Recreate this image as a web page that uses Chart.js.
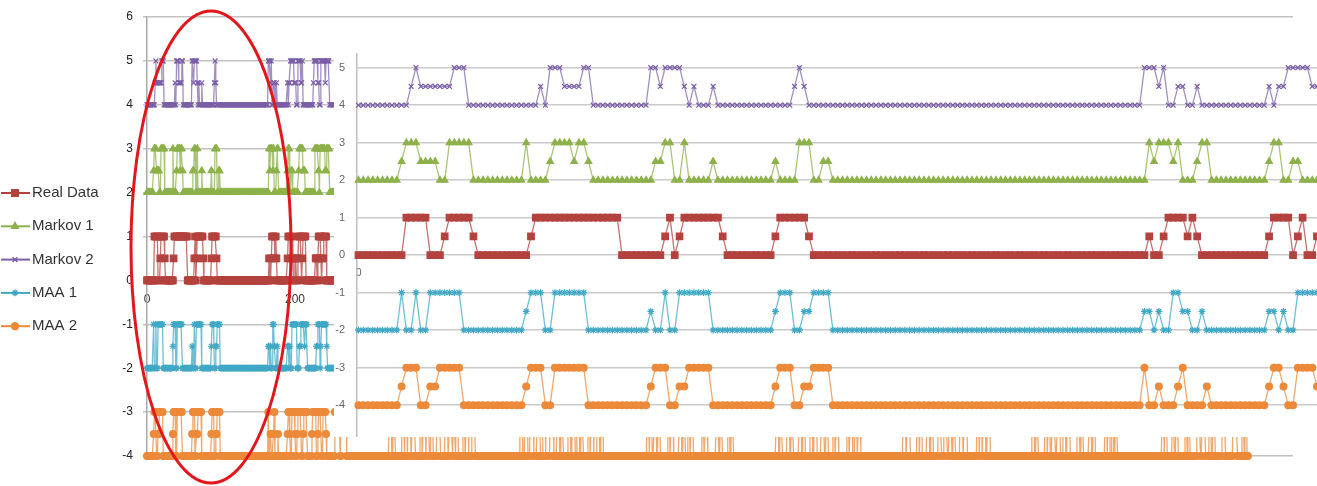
<!DOCTYPE html>
<html>
<head>
<meta charset="utf-8">
<title>Real Data vs Markov / MAA</title>
<script src="https://cdn.jsdelivr.net/npm/chart.js@4.4.0/dist/chart.umd.min.js"></script>
<style>
  html, body { margin: 0; padding: 0; background: #fff; overflow: hidden; }
  #wrap { position: relative; width: 1317px; height: 486px; }
  #main { position: absolute; left: 0; top: 0; }
  #insetBox { position: absolute; left: 334px; top: 48px; width: 1000px; height: 389px; background: #fff; overflow: hidden; }
  #inset { display: block; }
</style>
</head>
<body>
<div id="wrap">
  <canvas id="main" width="1317" height="486"></canvas>
  <div id="insetBox"><canvas id="inset" width="1000" height="396"></canvas></div>
</div>
<script>
// ── data as [value, consecutive points] ───────────────────────────────────────
const seriesNames = ['Real Data', 'Markov 1', 'Markov 2', 'MAA 1', 'MAA 2'];

const realRuns = [
  [0,10],[1,5],[0,3],[0.5,1],[1,5],[0.5,1],[0,11],[0.5,1],[1,18],[0,9],[0.5,1],[1,1],[0,1],[0.5,1],
  [1,8],[0.5,1],[0,10],[0.5,1],[1,6],[0.5,1],[0,70],[0.5,1],[0,2],[0.5,1],[1,4],[0.5,1],[1,1],[0.5,1],
  [0,14],[0.5,1],[1,4],[0,1],[0.5,1],[1,1],[0,2],[0.5,1],
  [0.5,1],[0,2],[0.5,1],[1,4],[0,1],[0.5,1],[1,4],[0,13],[0.5,2],[0,1],[0.5,1],[1,4],[0,1],[0.5,2],[1,4],[0,11]
];

const markov1Runs = [
  [2,9],[2.5,1],[3,3],[2.5,4],[2,2],[3,5],[2,11],[3,1],[2,4],[2.5,1],[3,4],[2.5,1],[3,2],[2.5,1],
  [2,13],[2.5,2],[3,2],[2,2],[3,1],[2,5],[2.5,1],[2,12],[2.5,1],[2,4],[3,3],[2,2],[2.5,2],[2,66],
  [3,1],[2.5,1],[3,3],[2.5,1],[3,1],[2,3],[2.5,1],[3,2],[2,12],[2.5,1],[3,2],[2,2],[2.5,2],[2,4],
  [2,4],[2.5,1],[3,5],[2.5,3],[2,13],[3,5],[2.5,1],[2,1],[3,7],[2.5,2],[3,4],[2,7]
];

const markov2Runs = [
  [4,11],[4.5,1],[5,1],[4.5,7],[5,3],[4,15],[4.5,1],[4,1],[5,3],[4.5,4],[5,2],[4,12],[5,2],[4.5,1],
  [5,4],[4.5,1],[4,1],[4.5,1],[4,3],[4.5,1],[4,16],[4.5,1],[5,1],[4.5,1],[4,70],[5,3],[4.5,1],[5,1],
  [4,2],[4.5,2],[4,2],[4.5,1],[4,14],[4.5,1],[4,1],[4.5,2],[5,5],[4.5,1],
  [4.5,2],[4,2],[5,4],[4.5,2],[5,1],[4,14],[4.5,1],[5,5],[4.5,2],[4,2],[5,6],[4.5,1],[5,5],[4,7]
];

const maa1Runs = [
  [-2,9],[-1,1],[-2,2],[-1,1],[-2,2],[-1,7],[-2,13],[-1.5,1],[-1,3],[-2,2],[-1,7],[-2,13],[-1.5,1],
  [-2,2],[-1,1],[-2,2],[-1,7],[-2,13],[-1.5,1],[-1,3],[-2,2],[-1.5,2],[-1,4],[-2,65],[-1.5,2],[-2,1],
  [-1.5,1],[-2,2],[-1,2],[-1.5,2],[-2,2],[-1.5,1],[-2,13],[-1.5,2],[-2,1],[-1.5,1],[-2,2],[-1,5],
  [-1,2],[-2,3],[-1.5,2],[-1,5],[-1.5,1],[-1,3],[-2,12],[-1.5,2],[-1,3],[-2,1],[-1.5,1],[-1,7],[-1.5,1],[-2,10]
];

const maa2Runs = [
  // first 200 points (inset) + the tail still visible left of the inset
  [-4,9],[-3.5,1],[-3,3],[-4,2],[-3.5,2],[-3,5],[-4,13],[-3.5,1],[-3,3],[-4,2],[-3,7],[-4,13],[-3.5,1],
  [-3,3],[-4,2],[-3.5,2],[-3,5],[-4,13],[-3.5,1],[-3,3],[-4,2],[-3.5,2],[-3,4],[-4,65],[-3,1],[-4,2],
  [-3.5,1],[-4,3],[-3.5,1],[-3,1],[-4,4],[-3.5,1],[-4,12],[-3.5,1],[-3,2],[-3.5,1],[-4,2],[-3,4],[-3.5,1],
  [-4,2],[-3.5,1],[-3,5],[-4,2],[-3.5,1],[-3,5],[-4,6],[-3.5,1],[-3,5],[-4,2],[-3.5,1],[-3,4],[-4,2],[-3,4],
  [-3.5,1],[-4,7],
  [-4,4],[-3,7],[-4,2],[-3,7],[-4,58],
  // bursts seen along the bottom edge, under the inset
  [-3,3],[-4,2],[-3,3],[-4,9],[-3,3],[-4,1],[-3,3],[-4,1],[-3,4],[-4,2],[-3,4],[-4,6],[-3,3],[-4,2],[-3,3],
  [-4,1],[-3,4],[-4,2],[-3,3],[-4,5],[-3,5],[-4,6],[-3,4],[-4,2],[-3,4],[-4,1],[-3,3],[-4,1],[-3,3],[-4,6],
  [-3,3],[-4,2],[-3,3],[-4,4],[-3,5],[-4,60],
  [-3,4],[-4,3],[-3,4],[-4,3],[-3,5],[-4,5],[-3,4],[-4,3],[-3,4],[-4,6],[-3,5],[-4,5],[-3,3],[-4,2],[-3,3],
  [-4,6],[-3,4],[-4,2],[-3,4],[-4,2],[-3,4],[-4,2],[-3,3],[-4,6],[-3,3],[-4,2],[-3,3],[-4,4],[-3,4],[-4,2],
  [-3,3],[-4,59],
  [-3,3],[-4,1],[-3,3],[-4,3],[-3,3],[-4,2],[-3,3],[-4,10],[-3,3],[-4,2],[-3,3],[-4,8],[-3,3],[-4,2],[-3,3],
  [-4,3],[-3,3],[-4,2],[-3,3],[-4,11],[-3,3],[-4,2],[-3,3],[-4,12],[-3,3],[-4,2],[-3,3],[-4,7],[-3,3],[-4,2],
  [-3,3],[-4,58],
  [-3,3],[-4,2],[-3,3],[-4,7],[-3,3],[-4,2],[-3,3],[-4,8],[-3,3],[-4,2],[-3,3],[-4,6],[-3,4],[-4,2],[-3,4],
  [-4,6],[-3,4],[-4,2],[-3,3],[-4,6],[-3,3],[-4,2],[-3,3],[-4,11],[-3,3],[-4,2],[-3,3],[-4,3],[-3,3],[-4,2],
  [-3,3],[-4,57],
  [-3,4],[-4,2],[-3,4],[-4,9],[-3,3],[-4,1],[-3,3],[-4,7],[-3,3],[-4,2],[-3,3],[-4,6],[-3,5],[-4,3],[-3,5],
  [-4,3],[-3,3],[-4,2],[-3,3],[-4,6],[-3,4],[-4,2],[-3,4],[-4,13],[-3,3],[-4,1],[-3,3],[-4,1],[-3,4],[-4,2],
  [-3,4],[-4,56],
  [-3,4],[-4,2],[-3,3],[-4,9],[-3,3],[-4,1],[-3,3],[-4,3],[-3,4],[-4,3],[-3,4],[-4,3],[-3,4],[-4,2],[-3,4],
  [-4,9],[-3,4],[-4,2],[-3,3],[-4,8],[-3,3],[-4,2],[-3,3],[-4,13],[-3,3],[-4,1],[-3,3],[-4,2],[-3,3],[-4,2],
  [-3,3],[-4,60],
  [-3,3],[-4,1],[-3,3],[-4,7],[-3,3],[-4,2],[-3,3],[-4,9],[-3,3],[-4,1],[-3,3],[-4,9],[-3,5],[-4,2],[-3,5],
  [-4,5],[-3,3],[-4,2],[-3,3],[-4,9],[-3,5],[-4,10],[-3,6],[-4,6],[-3,3],[-4,1],[-3,3],[-4,2]
];

const mainYTicks  = [-4, -3, -2, -1, 0, 1, 2, 3, 4, 5, 6];
const mainXTicks  = [0, 200, 400, 600, 800, 1000, 1200, 1400];
const insetYTicks = [-4, -3, -2, -1, 0, 1, 2, 3, 4, 5];
const insetXTicks = [0];

// ── helpers ───────────────────────────────────────────────────────────────────
function expand(runs) {
  const out = [];
  runs.forEach(([v, n]) => { for (let k = 0; k < n; k++) out.push(v); });
  return out.map((y, x) => ({ x, y }));
}

const allRuns = [realRuns, markov1Runs, markov2Runs, maa1Runs, maa2Runs];
const styles = [
  { color: '#B3423E', line: 'rgba(179,66,62,0.75)',  point: 'rect',     r: 4.6 },
  { color: '#8DB14B', line: 'rgba(141,177,75,0.75)', point: 'triangle', r: 3.8 },
  { color: '#7B5FA7', line: 'rgba(123,95,167,0.7)',  point: 'crossRot', r: 3.4 },
  { color: '#40A8C5', line: 'rgba(64,168,197,0.75)', point: 'star',     r: 3.4 },
  { color: '#EC8A3A', line: 'rgba(236,138,58,0.75)', point: 'circle',   r: 3.4 },
];

function makeDatasets() {
  return seriesNames.map((name, i) => {
    const st = styles[i];
    return {
      label: name,
      data: expand(allRuns[i]),
      borderColor: st.line,
      backgroundColor: st.color,
      borderWidth: 1.3,
      pointStyle: st.point,
      pointRadius: st.r,
      pointBorderWidth: 1.2,
      pointBackgroundColor: st.color,
      pointBorderColor: st.color,
      tension: 0,
      clip: false,
    };
  });
}

const font = 'Liberation Sans, Arial, sans-serif';

// legend on the left + red ellipse drawn by hand
const overlay = {
  id: 'overlay',
  afterDraw(chart) {
    const ctx = chart.ctx;
    ctx.save();
    seriesNames.forEach((name, i) => {
      const st = styles[i];
      const y = 193 + i * 33.3;
      ctx.strokeStyle = st.color;
      ctx.lineWidth = 2;
      ctx.beginPath();
      ctx.moveTo(1, y);
      ctx.lineTo(30, y);
      ctx.stroke();
      ctx.fillStyle = st.color;
      ctx.lineWidth = 1.5;
      Chart.helpers.drawPoint(ctx, { pointStyle: st.point, radius: st.r, borderWidth: 1.5, rotation: 0 }, 15, y);
      ctx.fillStyle = '#333';
      ctx.font = '15px ' + font;
      ctx.textBaseline = 'middle';
      ctx.textAlign = 'left';
      ctx.fillText(name, 32, y);
    });
    ctx.beginPath();
    ctx.ellipse(211, 247, 80, 236, 0, 0, Math.PI * 2);
    ctx.strokeStyle = '#E3161B';
    ctx.lineWidth = 3;
    ctx.stroke();
    ctx.restore();
  }
};

// ── main chart ────────────────────────────────────────────────────────────────
new Chart(document.getElementById('main'), {
  type: 'line',
  data: { datasets: makeDatasets() },
  options: {
    responsive: false,
    animation: false,
    events: [],
    layout: { padding: { top: 17, right: 24, bottom: 30, left: 0 } },
    plugins: { legend: { display: false }, tooltip: { enabled: false } },
    scales: {
      x: {
        type: 'linear', min: 0, max: 1549, position: { y: 0 },
        afterFit: s => { s.height = 0; },
        afterBuildTicks: s => { s.ticks = mainXTicks.map(v => ({ value: v })); },
        grid: { display: false, drawTicks: false },
        border: { display: false },
        ticks: { padding: 12, color: '#333', maxRotation: 0, autoSkip: false, font: { family: font, size: 12 } }
      },
      y: {
        min: -4, max: 6,
        afterFit: s => { s.width = 147; s.paddingTop = 0; s.paddingBottom = 0; },
        afterBuildTicks: s => { s.ticks = mainYTicks.map(v => ({ value: v })); },
        grid: { color: '#C2C2C2', lineWidth: 1.5, tickLength: 4 },
        border: { color: '#A9A9A9', width: 1.5 },
        ticks: { padding: 10, color: '#222', font: { family: font, size: 12 } }
      }
    }
  },
  plugins: [overlay]
});

// ── inset (zoom on the first 200 points) ──────────────────────────────────────
new Chart(document.getElementById('inset'), {
  type: 'line',
  data: { datasets: makeDatasets() },
  options: {
    responsive: false,
    animation: false,
    events: [],
    layout: { padding: { top: 5, right: 17, bottom: 0, left: 0 } },
    plugins: { legend: { display: false }, tooltip: { enabled: false } },
    scales: {
      x: {
        type: 'linear', min: -0.3, max: 200, position: { y: 0 },
        afterFit: s => { s.height = 0; s.paddingLeft = 0; s.paddingRight = 0; },
        afterBuildTicks: s => { s.ticks = insetXTicks.map(v => ({ value: v })); },
        grid: { display: false, drawTicks: false },
        border: { display: false },
        ticks: { padding: 11, color: '#666', font: { family: font, size: 11 } }
      },
      y: {
        min: -4.88, max: 5.37,
        afterFit: s => { s.width = 23; s.paddingTop = 0; s.paddingBottom = 0; },
        afterBuildTicks: s => { s.ticks = insetYTicks.map(v => ({ value: v })); },
        grid: { color: '#CACACA', lineWidth: 1.5, drawTicks: false },
        border: { color: '#BDBDBD', width: 1.5 },
        ticks: { padding: 12, color: '#666', font: { family: font, size: 11 } }
      }
    }
  }
});
</script>
</body>
</html>
